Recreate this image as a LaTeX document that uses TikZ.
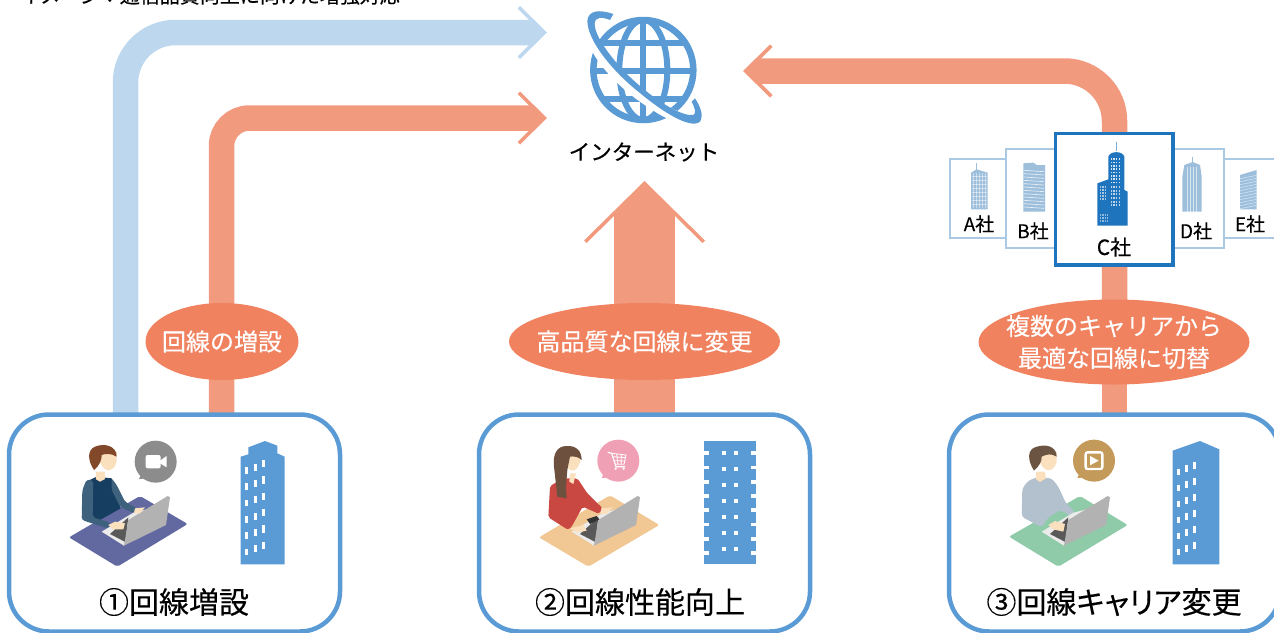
\documentclass[tikz,border=0pt]{standalone}
\usepackage{fontspec}
\setmainfont[FakeBold=0.25]{Noto Sans CJK JP}
\usetikzlibrary{shapes.geometric,calc}
\definecolor{sal}{HTML}{F19A7E}
\definecolor{lblue}{HTML}{BDD7EE}
\definecolor{boxb}{HTML}{5B9BD5}
\definecolor{ell}{HTML}{F0825F}
\definecolor{cardl}{HTML}{A9C9E4}
\definecolor{cardd}{HTML}{1F75BD}
\definecolor{bldl}{HTML}{9DBFDC}
\definecolor{skin}{HTML}{FBE0BD}
\definecolor{matA}{RGB}{98,104,160}
\definecolor{matB}{RGB}{241,199,148}
\definecolor{matC}{RGB}{143,203,169}
\definecolor{torsoA}{RGB}{22,62,96}
\definecolor{sleeveA}{RGB}{62,98,125}
\definecolor{hairA}{RGB}{130,72,42}
\definecolor{hairB}{RGB}{110,80,62}
\definecolor{hairC}{RGB}{108,84,66}
\definecolor{topB}{RGB}{201,72,66}
\definecolor{topC}{RGB}{178,193,205}
\definecolor{bubB}{RGB}{239,160,180}
\definecolor{bubC}{RGB}{196,154,90}
\tikzset{
 x=1pt,y=-1pt,
 flowsal/.style={draw=sal,line width=25.5pt,rounded corners=#1,shorten >=14pt},
 flowblue/.style={draw=lblue,line width=25.5pt,rounded corners=50pt,shorten >=14pt},
 svc/.style={draw=boxb,line width=4.5pt,fill=white,rounded corners=40pt,minimum height=217pt,minimum width=331pt,inner sep=0pt,outer sep=0pt},
 oval/.style={ellipse,fill=ell,inner sep=0pt},
 ovaltext/.style={text=white,inner sep=0pt,font=\fontsize{24}{32}\selectfont,align=center},
 svctitle/.style={font=\fontsize{30}{32}\selectfont,text=black},
 cardthin/.style={draw=cardl,line width=2pt,fill=white,inner sep=0pt,outer sep=0pt},
 cardmain/.style={draw=cardd,line width=3.5pt,fill=white,inner sep=0pt,outer sep=0pt},
 cotext/.style={font=\fontsize{19}{22}\selectfont,text=black},
 pics/chev/.style={code={\fill[#1] (0,0)--(-27,-26.5)--(-29.5,-24)--(-16,-10.5)--(-16,10.5)--(-29.5,24)--(-27,26.5)--cycle;}},
}
\newcommand{\laptop}{%
 \fill[fill=black!8] (305,365)--(400,308)--(440,298)--(372,407)--cycle;
 \fill[fill=black!65] (330,372)--(385,322)--(376,396)--cycle;
 \fill[fill=black!30] (372,407) -- (385,330) -- (503,258) -- (510,262) -- (498,345) -- cycle;
}
\newcommand{\bubble}[3]{%
 \fill[#3] (#1-42,#2+35)--(#1-50,#2+52)--(#1-25,#2+50)--cycle;
 \fill[#3] (#1,#2) circle[radius=63];
}
\begin{document}
\begin{tikzpicture}
\useasboundingbox (0,0) rectangle (1274,632);
\clip (0,0) rectangle (1274,632);
% caption
\node[anchor=base west,inner sep=0pt,font=\fontsize{20}{22}\selectfont] (cap) at (20,3) {イメージ：通信品質向上に向けた増強対応};
% anchors
\coordinate (tipB) at (547,32.5);
\coordinate (tipO) at (547,118);
\coordinate (tipR) at (743,71);
\coordinate (tipU) at (644.5,181);
\coordinate (s1) at (125.5,420);
\coordinate (s2) at (221.5,420);
\coordinate (s3) at (1114.5,300);
\coordinate (s3b) at (1114.5,420);
\coordinate (s4) at (644.5,420);
% connectors
\draw[flowblue] (s1) |- (tipB);
\draw[flowsal=28pt] (s2) |- (tipO);
\draw[flowsal=50pt] (s3) |- (tipR);
\draw[draw=sal,line width=25.5pt] (s3) -- (s3b);
\draw[draw=sal,line width=61pt] (s4) -- ($(tipU)+(0,35)$);
\pic at (tipB) {chev=lblue};
\pic at (tipO) {chev=sal};
\pic[rotate=180] at (tipR) {chev=sal};
\fill[sal] (tipU)--(705,240.5)--(702.5,243)--(675,216)--(614,216)--(586.5,243)--(584,240.5)--cycle;
% ovals
\node[oval,minimum width=153pt,minimum height=77pt] (o1) at (222,341.5) {};
\node[ovaltext] (o1t) at (o1) {回線の増設};
\node[oval,minimum width=271pt,minimum height=77pt] (o2) at (644.5,341.5) {};
\node[ovaltext] (o2t) at (o2) {高品質な回線に変更};
\node[oval,minimum width=271pt,minimum height=85pt] (o3) at (1114,342) {};
\node[ovaltext] (o3t) at (o3) {複数のキャリアから\\最適な回線に切替};
% globe
\begin{scope}[shift={(560,0)},scale=1/3]
 \begin{scope}
  \draw[boxb,line width=6.5pt] (250,210) circle[radius=150];
  \clip (250,210) circle[radius=150];
  \draw[boxb,line width=6pt] (250,210) ellipse[x radius=72,y radius=150];
  \draw[boxb,line width=6pt] (250,50)--(250,370);
  \draw[boxb,line width=6pt] (90,212)--(410,212) (130,130)--(370,130) (130,298)--(370,298);
 \end{scope}
 \draw[white,line width=11pt] (95,105) .. controls (110,170) and (180,240) .. (240,285) .. controls (310,335) and (370,370) .. (405,350);
 \fill[boxb] (160,42) .. controls (120,28) and (85,30) .. (82,62) .. controls (82,125) and (165,220) .. (235,275) .. controls (300,330) and (390,390) .. (420,365) .. controls (432,345) and (420,318) .. (405,295) -- (395,305) .. controls (405,325) and (410,340) .. (400,345) .. controls (370,350) and (300,310) .. (245,262) .. controls (180,210) and (102,115) .. (104,70) .. controls (106,50) and (125,50) .. (150,60) -- cycle;
\end{scope}
\node[font=\fontsize{21.5}{24}\selectfont,inner sep=0pt,text=black] (net) at (644,152) {インターネット};
% cards
\node[cardthin,minimum width=57pt,minimum height=79pt] (ca) at (978,198.5) {};
\node[cardthin,minimum width=57pt,minimum height=79pt] (ce) at (1252,198.5) {};
\node[cardthin,minimum width=50pt,minimum height=99pt] (cb) at (1030.5,198.5) {};
\node[cardthin,minimum width=51pt,minimum height=99pt] (cd) at (1198,198.5) {};
\node[cardmain,minimum width=117.5pt,minimum height=131.5pt] (cc) at (1114,199) {};
\node[cotext] (la) at (979,224) {A社};
\node[cotext] (lb) at (1033,231) {B社};
\node[cotext,font=\fontsize{21}{24}\selectfont] (lc) at (1114,247) {C社};
\node[cotext] (ld) at (1196,231) {D社};
\node[cotext] (le) at (1250,224) {E社};
% small company buildings
\begin{scope}[shift={(940,120)},scale=1/3]
 % A
 \draw[bldl,line width=1pt] (110,130)--(110,150);
 \fill[bldl] (93,268)--(93,158)--(110,148)--(143,158)--(143,268)--cycle;
 \foreach \i in {0,...,7}{\fill[white,opacity=.45] (95,168+12*\i) rectangle (141,170+12*\i);}
 \foreach \i in {0,...,4}{\fill[white,opacity=.45] (100+9*\i,160) rectangle (102+9*\i,265);}
 % B
 \fill[bldl] (250,275)--(250,130)--(280,128)--(290,135)--(315,135)--(315,275)--cycle;
 \foreach \i in {0,...,11}{\fill[white,opacity=.75] (252,150+10*\i)--(312,154+10*\i)--(312,156+10*\i)--(252,152+10*\i)--cycle;}
 % C
 \draw[cardd,line width=1pt,opacity=.6] (528,65)--(528,92);
 \fill[cardd] (472,317)--(472,190)--(505,178)--(505,110) .. controls (510,92) and (548,92) .. (553,110) --(553,210)--(563,215)--(563,317)--cycle;
 \foreach \i in {0,...,3}{\foreach \j in {0,...,7}{\fill[white,opacity=.8] (512+8*\i,115+10*\j) rectangle ++(4,5);}}
 \foreach \i in {0,...,3}{\foreach \j in {0,...,5}{\fill[white,opacity=.7] (512+8*\i,198+11*\j) rectangle ++(4,6);}}
 \foreach \i in {0,...,2}{\foreach \j in {0,...,4}{\fill[white,opacity=.6] (480+7*\i,198+9*\j) rectangle ++(4,5);}}
 \foreach \i in {0,...,3}{\foreach \j in {0,...,2}{\fill[white,opacity=.5] (480+7*\i,282+9*\j) rectangle ++(4,5);}}
 % D
 \draw[bldl,line width=1pt] (758,110)--(758,130);
 \fill[bldl] (727,275)--(727,170)--(733,135)--(758,126)--(780,135)--(785,170)--(785,275)--cycle;
 \foreach \i in {0,...,3}{\fill[white,opacity=.6] (740+9*\i,140) rectangle (741.5+9*\i,275);}
 % E
 \fill[bldl] (900,268)--(900,165)--(950,150)--(950,268)--cycle;
 \foreach \i in {0,...,10}{\fill[white,opacity=.5] (900,175+9*\i) -- (950,165+9*\i)--(950,167+9*\i)--(900,177+9*\i)--cycle;}
\end{scope}
% boxes
\node[svc] (box1) at (174.5,523) {};
\node[svc] (box2) at (644.5,523) {};
\node[svc] (box3) at (1114.5,523) {};
\node[svctitle] (t1) at (174,602) {①回線増設};
\node[svctitle] (t2) at (640,602) {②回線性能向上};
\node[svctitle] (t3) at (1114,602) {\addfontfeature{RawFeature=+palt}③回線キャリア変更};
% person 1
\begin{scope}[shift={(0,410)},scale=1/3]
 \fill[matA,rounded corners=2pt] (207,382)--(420,258)--(563,342)--(352,470)--cycle;
 \fill[torsoA] (265,212)--(290,200)--(335,205)--(358,262)--(362,295)--(300,330)--(268,322)--cycle;
 \fill[sleeveA,rounded corners=3pt] (245,330)--(247,240)--(260,208)--(280,212)--(278,322)--(332,338)--(326,356)--cycle;
 \fill[sleeveA,rounded corners=2pt] (335,205)--(350,225)--(375,275)--(410,295)--(402,310)--(360,290)--(335,240)--cycle;
 \fill[skin] (288,185)--(315,185)--(315,207)--(300,215)--(288,208)--cycle;
 \fill[skin] (295,130) .. controls (300,190) and (340,195) .. (350,155) -- (350,125)--cycle;
 \fill[hairA] (282,180) .. controls (262,150) and (262,120) .. (285,110) .. controls (315,98) and (350,108) .. (350,140) .. controls (335,130) and (315,130) .. (305,135) .. controls (305,150) and (300,165) .. (282,180) -- cycle;
 \laptop
 \fill[skin] (325,345) -- (345,335) -- (375,340) -- (370,358) -- (340,358)--cycle;
 \fill[skin] (405,295) -- (435,292) -- (420,310) -- (402,308)--cycle;
 \bubble{467}{155}{black!45}
 \fill[white,rounded corners=2pt] (437,135) rectangle (482,175);
 \fill[white] (480,152)--(500,138)--(500,172)--(480,160)--cycle;
 % building
 \fill[boxb] (722,463)--(722,140)--(745,133)--(745,112)--(795,93)--(832,107)--(832,130)--(854,140)--(854,463)--cycle;
 \foreach \r in {0,...,5}{
  \fill[white] (736,171+49*\r) rectangle ++(9,20);
  \fill[white] (761,161+49*\r) rectangle ++(9,21);
  \fill[white] (787,150+49*\r) rectangle ++(9,22);
 }
\end{scope}
% person 2
\begin{scope}[shift={(470,410)},scale=1/3]
 \fill[matB,rounded corners=2pt] (207,382)--(420,256)--(568,345)--(355,470)--cycle;
 \fill[topB,rounded corners=2pt] (240,228)--(280,205)--(322,205)--(352,250)--(398,295)--(388,312)--(338,290)--(305,350)--(295,360)--(235,322)--cycle;
 \fill[skin] (280,130) .. controls (285,190) and (320,200) .. (332,150) -- (330,120)--cycle;
 \fill[skin] (300,190) -- (318,190)--(310,222)--(298,215)--cycle;
 \fill[hairB] (290,108) .. controls (262,108) and (248,130) .. (252,170) -- (262,260) -- (290,265) -- (288,230) -- (292,180) -- (300,140) .. controls (310,138) and (325,140) .. (335,150) .. controls (335,125) and (320,106) .. (290,108) -- cycle;
 \laptop
 \fill[black!80] (350,328)--(380,318)--(388,328)--(360,342)--cycle;
 \fill[skin] (300,355) -- (340,345) -- (350,362) -- (320,368)--cycle;
 \fill[skin] (395,295) -- (428,292) -- (410,312) -- (390,310)--cycle;
 \bubble{445}{152}{bubB}
 \draw[white,line width=1.2pt] (413,127)--(425,130)--(438,170)--(465,170);
 \draw[white,line width=.8pt] (425,130)--(468,135)--(462,163)--(436,163) (428,140)--(466,143) (432,152)--(464,153) (440,132)--(444,163) (454,134)--(454,163);
 \fill[white] (437,176) circle[radius=4] (461,176) circle[radius=4];
 % building
 \fill[boxb] (702,93) rectangle (858,463);
 \foreach \y in {124,167,210,253,295,338,381,424}{
  \fill[white] (702,\y) rectangle (717,\y+11);
  \fill[white] (843,\y) rectangle (858,\y+11);
 }
 \foreach \y in {122,170,218,266,314,362,412}{
  \fill[white] (757,\y) rectangle ++(12,12);
  \fill[white] (792,\y) rectangle ++(12,12);
 }
\end{scope}
% person 3
\begin{scope}[shift={(940,410)},scale=1/3]
 \fill[matC,rounded corners=2pt] (207,380)--(420,258)--(563,345)--(355,470)--cycle;
 \fill[topC,rounded corners=3pt] (245,320)--(247,235)--(265,212)--(290,202)--(335,205)--(355,230)--(378,280)--(405,305)--(392,318)--(362,300)--(325,322)--(305,352)--cycle;
 \fill[skin] (288,185)--(315,185)--(318,205)--(300,216)--(288,208)--cycle;
 \fill[skin] (295,130) .. controls (300,190) and (340,195) .. (350,155) -- (350,125)--cycle;
 \fill[hairC] (282,182) .. controls (262,150) and (262,120) .. (285,112) .. controls (315,100) and (350,108) .. (350,140) .. controls (335,130) and (320,132) .. (305,140) .. controls (305,155) and (300,165) .. (282,182) -- cycle;
 \laptop
 \fill[skin] (325,345) -- (345,333) -- (375,342) -- (370,365) -- (340,358)--cycle;
 \bubble{462}{152}{bubC}
 \draw[white,line width=2.4pt,rounded corners=2pt] (437,127) rectangle (487,177);
 \fill[white] (450,138)--(476,152)--(450,166)--cycle;
 % building
 \fill[boxb] (698,463)--(698,122)--(780,93)--(838,118)--(838,463)--cycle;
 \foreach \r in {0,...,5}{
  \fill[white] (712,176+48*\r) rectangle ++(8,19);
  \fill[white] (736,166+48*\r) rectangle ++(8,20);
  \fill[white] (760,156+48*\r) rectangle ++(8,21);
 }
\end{scope}
\end{tikzpicture}
\end{document}
